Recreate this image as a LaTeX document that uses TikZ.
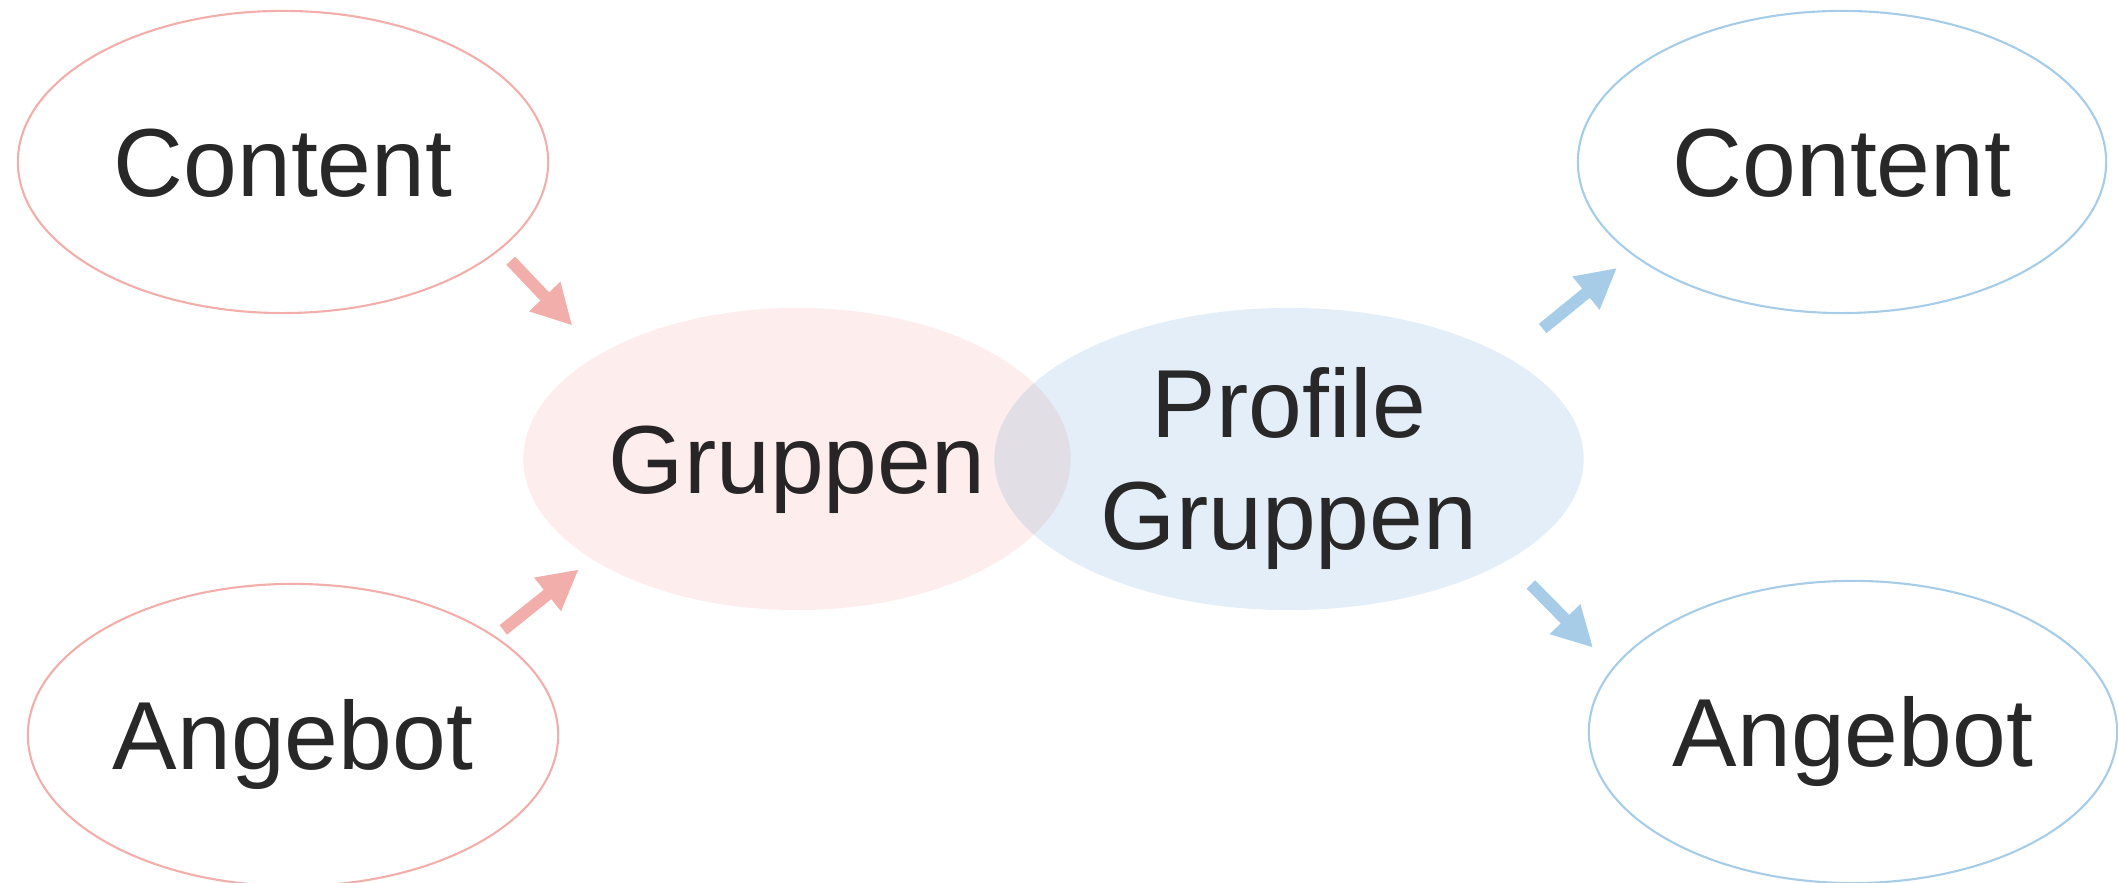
\documentclass[tikz,border=0pt]{standalone}
\usepackage{fontspec}
\setmainfont{Liberation Sans}
\usetikzlibrary{arrows.meta,shapes.geometric}

\definecolor{rosa}{HTML}{F2AEAB}
\definecolor{rosafill}{HTML}{FDEEED}
\definecolor{blau}{HTML}{A6CCE8}
\definecolor{blaufill}{HTML}{E3EEF8}
\definecolor{schrift}{HTML}{282828}

\tikzset{
  blob/.style={ellipse, inner sep=0pt, minimum height=3.02cm, text=schrift,
    font=\fontsize{27.5}{31.9}\selectfont, text height=0.691cm, text depth=0cm},
  quelle/.style={blob, draw=rosa, line width=0.6pt, minimum width=5.3cm},
  ziel/.style={blob, draw=blau, line width=0.6pt, minimum width=5.28cm},
  gruppe/.style={blob},
  pfeil/.style={line width=0.12cm, -{Triangle[length=0.4cm,width=0.4cm]}},
}

\begin{document}
\begin{tikzpicture}[x=0.01cm,y=0.01cm]
  \useasboundingbox (0,0) rectangle (2118,883);

  % Drawing the two groups in the middle
  \node[gruppe, fill=blaufill, minimum width=5.89cm, align=center,
    text height=1.811cm] (profil) at (1289,424) {Profile\\Gruppen};
  \node[gruppe, fill=rosafill, blend mode=multiply, minimum width=5.47cm]
    (gruppen) at (797,424) {Gruppen};

  % Drawing the inputs on the left
  \node[quelle] (content1) at (283,721) {Content};
  \node[quelle] (angebot1) at (293,148) {Angebot};

  % Drawing the outputs on the right
  \node[ziel] (content2) at (1842,721) {Content};
  \node[ziel] (angebot2) at (1853,151) {Angebot};

  % Drawing arrows into Gruppen
  \draw[pfeil, rosa, shorten <=0.15cm, shorten >=0.39cm] (content1.-22) -- (gruppen.152);
  \draw[pfeil, rosa, shorten <=0.1cm, shorten >=0.16cm] (angebot1.26) -- (gruppen.-154);

  % Drawing arrows out of Profile Gruppen
  \draw[pfeil, blau, shorten <=0.45cm, shorten >=0.2cm] (profil.25) -- (content2.-156);
  \draw[pfeil, blau, shorten <=0.33cm, shorten >=0.28cm] (profil.-25) -- (angebot2.165);
\end{tikzpicture}
\end{document}
